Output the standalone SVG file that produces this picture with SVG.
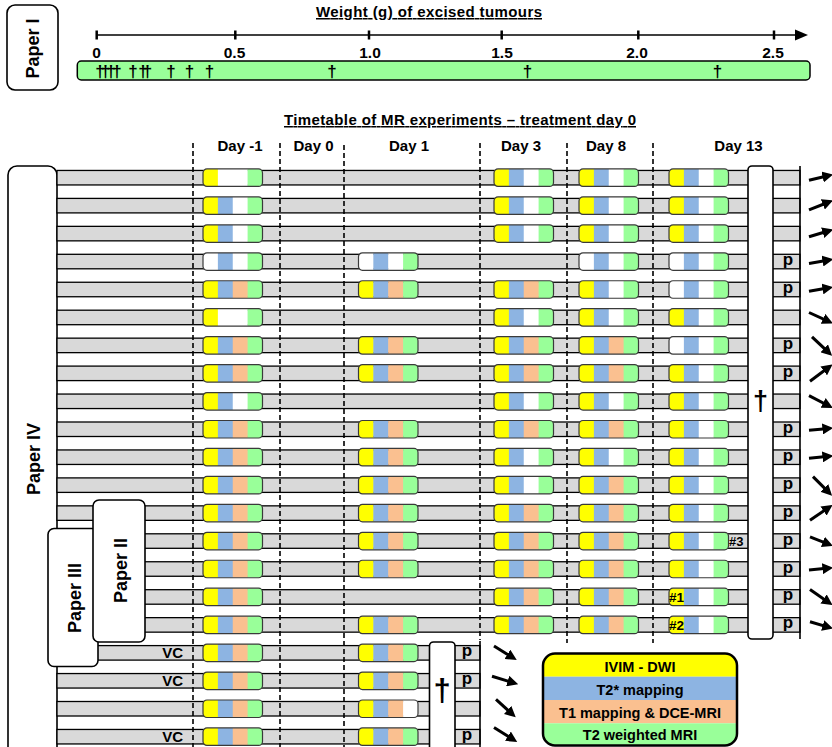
<svg xmlns="http://www.w3.org/2000/svg" xmlns:xlink="http://www.w3.org/1999/xlink" width="832" height="747" viewBox="0 0 832 747">
<style>
text{font-family:"Liberation Sans",Arial,sans-serif;font-weight:bold;fill:#000}
.band{fill:#d9d9d9;stroke:#000;stroke-width:1.3}
.po{fill:none;stroke:#3a3a3a;stroke-width:1.2}
.box{fill:#fff;stroke:#000;stroke-width:1.6}
.dash{stroke:#000;stroke-width:1.6;stroke-dasharray:5,3;fill:none}
.sol{stroke:#000;stroke-width:1.6;fill:none}
.day{font-size:15px;text-anchor:middle}
.p{font-size:17px;text-anchor:middle}
.vc{font-size:15px;text-anchor:end}
.dag{font-size:17px;text-anchor:middle}
.paper{font-size:18px;text-anchor:middle}
.lg{font-size:14.5px;text-anchor:middle}
.arr{stroke:#000;stroke-width:3;fill:none;marker-end:url(#ah)}
</style>
<defs>
<marker id="ah" markerUnits="userSpaceOnUse" viewBox="0 0 10 10" markerWidth="11" markerHeight="11" refX="6" refY="5" orient="auto"><path d="M0,0 L10,5 L0,10 z" fill="#000"/></marker>
<clipPath id="pc"><rect width="59.5" height="17.5" rx="4"/></clipPath>
<clipPath id="lc"><rect x="543" y="653.5" width="194" height="92" rx="12"/></clipPath>
<g id="YBOG"><g clip-path="url(#pc)"><rect width="15.2" height="17.5" fill="#ff0"/><rect x="14.875" width="15.2" height="17.5" fill="#8db4e2"/><rect x="29.75" width="15.2" height="17.5" fill="#fac090"/><rect x="44.625" width="15" height="17.5" fill="#99ff99"/></g><rect class="po" width="59.5" height="17.5" rx="4"/></g>
<g id="YBWG"><g clip-path="url(#pc)"><rect width="15.2" height="17.5" fill="#ff0"/><rect x="14.875" width="15.2" height="17.5" fill="#8db4e2"/><rect x="29.75" width="15.2" height="17.5" fill="#fff"/><rect x="44.625" width="15" height="17.5" fill="#99ff99"/></g><rect class="po" width="59.5" height="17.5" rx="4"/></g>
<g id="YWWG"><g clip-path="url(#pc)"><rect width="15.2" height="17.5" fill="#ff0"/><rect x="14.875" width="30" height="17.5" fill="#fff"/><rect x="44.625" width="15" height="17.5" fill="#99ff99"/></g><rect class="po" width="59.5" height="17.5" rx="4"/></g>
<g id="WBWG"><g clip-path="url(#pc)"><rect width="15.2" height="17.5" fill="#fff"/><rect x="14.875" width="15.2" height="17.5" fill="#8db4e2"/><rect x="29.75" width="15.2" height="17.5" fill="#fff"/><rect x="44.625" width="15" height="17.5" fill="#99ff99"/></g><rect class="po" width="59.5" height="17.5" rx="4"/></g>
<g id="YBOW"><g clip-path="url(#pc)"><rect width="15.2" height="17.5" fill="#ff0"/><rect x="14.875" width="15.2" height="17.5" fill="#8db4e2"/><rect x="29.75" width="15.2" height="17.5" fill="#fac090"/><rect x="44.625" width="15" height="17.5" fill="#fff"/></g><rect class="po" width="59.5" height="17.5" rx="4"/></g>
</defs>
<rect width="832" height="747" fill="#fff"/>

<!-- Paper I section -->
<g id="paper1">
<rect class="box" x="7" y="5" width="51" height="85" rx="8"/>
<text class="paper" transform="translate(38.5,48.5) rotate(-90)">Paper I</text>
</g>
<g id="weight-axis">
<text x="429" y="17" font-size="15" text-anchor="middle" text-decoration="underline" textLength="226" lengthAdjust="spacing">Weight (g) of excised  tumours</text>
<line class="sol" x1="96.7" y1="35" x2="798" y2="35" stroke-width="2.5"/>
<path d="M795,29.5 L808,35 L795,40.5 z" fill="#000"/>
<g stroke="#000" stroke-width="2.5">
<line x1="96.7" y1="30.5" x2="96.7" y2="39.5"/>
<line x1="235.3" y1="30.5" x2="235.3" y2="39.5"/>
<line x1="369" y1="30.5" x2="369" y2="39.5"/>
<line x1="501.7" y1="30.5" x2="501.7" y2="39.5"/>
<line x1="638.3" y1="30.5" x2="638.3" y2="39.5"/>
<line x1="774" y1="30.5" x2="774" y2="39.5"/>
</g>
<g font-size="15.5" text-anchor="middle">
<text x="96.5" y="58">0</text>
<text x="234.5" y="58">0.5</text>
<text x="370" y="58">1.0</text>
<text x="502" y="58">1.5</text>
<text x="637" y="58">2.0</text>
<text x="773" y="58">2.5</text>
</g>
</g>
<g id="weight-bar">
<rect x="77.3" y="61" width="732.7" height="19" rx="4" fill="#99ff99" stroke="#000" stroke-width="1.5"/>
<text class="dag" x="100" y="77">†</text>
<text class="dag" x="105.5" y="77">†</text>
<text class="dag" x="111" y="77">†</text>
<text class="dag" x="117" y="77">†</text>
<text class="dag" x="133" y="77">†</text>
<text class="dag" x="143" y="77">†</text>
<text class="dag" x="147.5" y="77">†</text>
<text class="dag" x="171" y="77">†</text>
<text class="dag" x="189.5" y="77">†</text>
<text class="dag" x="209.5" y="77">†</text>
<text class="dag" x="332" y="77">†</text>
<text class="dag" x="527.5" y="77">†</text>
<text class="dag" x="717.5" y="77">†</text>
</g>

<!-- Timetable header -->
<g id="timetable-header">
<text x="460" y="125" font-size="15" text-anchor="middle" text-decoration="underline" textLength="352" lengthAdjust="spacing">Timetable  of MR  experiments  – treatment day 0</text>
<text class="day" x="240" y="151">Day -1</text>
<text class="day" x="313.5" y="151">Day 0</text>
<text class="day" x="409" y="151">Day 1</text>
<text class="day" x="521" y="151">Day 3</text>
<text class="day" x="606" y="151">Day 8</text>
<text class="day" x="738.5" y="151">Day 13</text>
</g>

<!-- Paper IV frame -->
<g id="paper4">
<rect class="box" x="8" y="166" width="49" height="600" rx="9"/>
<text class="paper" transform="translate(39.5,459) rotate(-90)">Paper IV</text>
</g>

<!-- Rows -->
<g id="row0" transform="translate(0,177.7)">
<rect class="band" x="57" y="-7.25" width="743" height="14.5"/>
<use xlink:href="#YWWG" x="203" y="-8.75"/><use xlink:href="#YBWG" x="494" y="-8.75"/><use xlink:href="#YBWG" x="579" y="-8.75"/><use xlink:href="#YBWG" x="669" y="-8.75"/>
</g>
<g id="row1" transform="translate(0,205.65)">
<rect class="band" x="57" y="-7.25" width="743" height="14.5"/>
<use xlink:href="#YBWG" x="203" y="-8.75"/><use xlink:href="#YBWG" x="494" y="-8.75"/><use xlink:href="#YBWG" x="579" y="-8.75"/><use xlink:href="#YBWG" x="669" y="-8.75"/>
</g>
<g id="row2" transform="translate(0,233.6)">
<rect class="band" x="57" y="-7.25" width="743" height="14.5"/>
<use xlink:href="#YBWG" x="203" y="-8.75"/><use xlink:href="#YBWG" x="494" y="-8.75"/><use xlink:href="#YBWG" x="579" y="-8.75"/><use xlink:href="#YBWG" x="669" y="-8.75"/>
</g>
<g id="row3" transform="translate(0,261.55)">
<rect class="band" x="57" y="-7.25" width="743" height="14.5"/>
<use xlink:href="#WBWG" x="203" y="-8.75"/><use xlink:href="#WBWG" x="358.5" y="-8.75"/><use xlink:href="#WBWG" x="579" y="-8.75"/><use xlink:href="#WBWG" x="669" y="-8.75"/>
<text class="p" x="788" y="3.5">p</text>
</g>
<g id="row4" transform="translate(0,289.5)">
<rect class="band" x="57" y="-7.25" width="743" height="14.5"/>
<use xlink:href="#YBOG" x="203" y="-8.75"/><use xlink:href="#YBOG" x="358.5" y="-8.75"/><use xlink:href="#YBOG" x="494" y="-8.75"/><use xlink:href="#YBWG" x="579" y="-8.75"/><use xlink:href="#WBWG" x="669" y="-8.75"/>
<text class="p" x="788" y="3.5">p</text>
</g>
<g id="row5" transform="translate(0,317.45)">
<rect class="band" x="57" y="-7.25" width="743" height="14.5"/>
<use xlink:href="#YWWG" x="203" y="-8.75"/><use xlink:href="#YBWG" x="494" y="-8.75"/><use xlink:href="#YBWG" x="579" y="-8.75"/><use xlink:href="#YBWG" x="669" y="-8.75"/>
</g>
<g id="row6" transform="translate(0,345.4)">
<rect class="band" x="57" y="-7.25" width="743" height="14.5"/>
<use xlink:href="#YBOG" x="203" y="-8.75"/><use xlink:href="#YBOG" x="358.5" y="-8.75"/><use xlink:href="#YBOG" x="494" y="-8.75"/><use xlink:href="#YBOG" x="579" y="-8.75"/><use xlink:href="#WBWG" x="669" y="-8.75"/>
<text class="p" x="788" y="3.5">p</text>
</g>
<g id="row7" transform="translate(0,373.35)">
<rect class="band" x="57" y="-7.25" width="743" height="14.5"/>
<use xlink:href="#YBOG" x="203" y="-8.75"/><use xlink:href="#YBOG" x="358.5" y="-8.75"/><use xlink:href="#YBOG" x="494" y="-8.75"/><use xlink:href="#YBOG" x="579" y="-8.75"/><use xlink:href="#YBWG" x="669" y="-8.75"/>
<text class="p" x="788" y="3.5">p</text>
</g>
<g id="row8" transform="translate(0,401.3)">
<rect class="band" x="57" y="-7.25" width="743" height="14.5"/>
<use xlink:href="#YBWG" x="203" y="-8.75"/><use xlink:href="#YBWG" x="494" y="-8.75"/><use xlink:href="#YBWG" x="579" y="-8.75"/><use xlink:href="#YBWG" x="669" y="-8.75"/>
</g>
<g id="row9" transform="translate(0,429.25)">
<rect class="band" x="57" y="-7.25" width="743" height="14.5"/>
<use xlink:href="#YBOG" x="203" y="-8.75"/><use xlink:href="#YBOG" x="358.5" y="-8.75"/><use xlink:href="#YBOG" x="494" y="-8.75"/><use xlink:href="#YBOG" x="579" y="-8.75"/><use xlink:href="#YBWG" x="669" y="-8.75"/>
<text class="p" x="788" y="3.5">p</text>
</g>
<g id="row10" transform="translate(0,457.2)">
<rect class="band" x="57" y="-7.25" width="743" height="14.5"/>
<use xlink:href="#YBOG" x="203" y="-8.75"/><use xlink:href="#YBOG" x="358.5" y="-8.75"/><use xlink:href="#YBWG" x="494" y="-8.75"/><use xlink:href="#YBWG" x="579" y="-8.75"/><use xlink:href="#YBWG" x="669" y="-8.75"/>
<text class="p" x="788" y="3.5">p</text>
</g>
<g id="row11" transform="translate(0,485.15)">
<rect class="band" x="57" y="-7.25" width="743" height="14.5"/>
<use xlink:href="#YBOG" x="203" y="-8.75"/><use xlink:href="#YBOG" x="358.5" y="-8.75"/><use xlink:href="#YBWG" x="494" y="-8.75"/><use xlink:href="#YBOG" x="579" y="-8.75"/><use xlink:href="#YBWG" x="669" y="-8.75"/>
<text class="p" x="788" y="3.5">p</text>
</g>
<g id="row12" transform="translate(0,513.1)">
<rect class="band" x="57" y="-7.25" width="743" height="14.5"/>
<use xlink:href="#YBOG" x="203" y="-8.75"/><use xlink:href="#YBOG" x="358.5" y="-8.75"/><use xlink:href="#YBOG" x="494" y="-8.75"/><use xlink:href="#YBOG" x="579" y="-8.75"/><use xlink:href="#YBWG" x="669" y="-8.75"/>
<text class="p" x="788" y="3.5">p</text>
</g>
<g id="row13" transform="translate(0,541.05)">
<rect class="band" x="57" y="-7.25" width="743" height="14.5"/>
<use xlink:href="#YBOG" x="203" y="-8.75"/><use xlink:href="#YBOG" x="358.5" y="-8.75"/><use xlink:href="#YBOG" x="494" y="-8.75"/><use xlink:href="#YBOG" x="579" y="-8.75"/><use xlink:href="#YBWG" x="669" y="-8.75"/>
<text x="729" y="4.5" font-size="13">#3</text>
<text class="p" x="788" y="3.5">p</text>
</g>
<g id="row14" transform="translate(0,569)">
<rect class="band" x="57" y="-7.25" width="743" height="14.5"/>
<use xlink:href="#YBOG" x="203" y="-8.75"/><use xlink:href="#YBOG" x="358.5" y="-8.75"/><use xlink:href="#YBOG" x="494" y="-8.75"/><use xlink:href="#YBOG" x="579" y="-8.75"/><use xlink:href="#YBWG" x="669" y="-8.75"/>
<text class="p" x="788" y="3.5">p</text>
</g>
<g id="row15" transform="translate(0,596.95)">
<rect class="band" x="57" y="-7.25" width="743" height="14.5"/>
<use xlink:href="#YBOG" x="203" y="-8.75"/><use xlink:href="#YBOG" x="494" y="-8.75"/><use xlink:href="#YBOG" x="579" y="-8.75"/><use xlink:href="#YBWG" x="669" y="-8.75"/>
<text x="669" y="5" font-size="13.5">#1</text>
<text class="p" x="788" y="3.5">p</text>
</g>
<g id="row16" transform="translate(0,624.9)">
<rect class="band" x="57" y="-7.25" width="743" height="14.5"/>
<use xlink:href="#YBOG" x="203" y="-8.75"/><use xlink:href="#YBOG" x="358.5" y="-8.75"/><use xlink:href="#YBOG" x="494" y="-8.75"/><use xlink:href="#YBOG" x="579" y="-8.75"/><use xlink:href="#YBWG" x="669" y="-8.75"/>
<text x="669" y="5" font-size="13.5">#2</text>
<text class="p" x="788" y="3.5">p</text>
</g>
<g id="row17" transform="translate(0,652.85)">
<rect class="band" x="57" y="-7.25" width="423" height="14.5"/>
<text class="vc" x="183" y="5.5">VC</text>
<use xlink:href="#YBOG" x="203" y="-8.75"/><use xlink:href="#YBOG" x="358.5" y="-8.75"/>
<text class="p" x="467" y="3.5">p</text>
</g>
<g id="row18" transform="translate(0,680.8)">
<rect class="band" x="57" y="-7.25" width="423" height="14.5"/>
<text class="vc" x="183" y="5.5">VC</text>
<use xlink:href="#YBOG" x="203" y="-8.75"/><use xlink:href="#YBOG" x="358.5" y="-8.75"/>
<text class="p" x="467" y="3.5">p</text>
</g>
<g id="row19" transform="translate(0,708.75)">
<rect class="band" x="57" y="-7.25" width="423" height="14.5"/>
<use xlink:href="#YBOG" x="203" y="-8.75"/><use xlink:href="#YBOW" x="358.5" y="-8.75"/>
</g>
<g id="row20" transform="translate(0,736.7)">
<rect class="band" x="57" y="-7.25" width="423" height="14.5"/>
<text class="vc" x="183" y="5.5">VC</text>
<use xlink:href="#YBOG" x="203" y="-8.75"/><use xlink:href="#YBOG" x="358.5" y="-8.75"/>
<text class="p" x="467" y="3.5">p</text>
</g>

<!-- Day separators -->
<g id="day-separators">
<line class="dash" x1="193" y1="143" x2="193" y2="747"/>
<line class="dash" x1="280" y1="143" x2="280" y2="747"/>
<line class="dash" x1="344" y1="145" x2="344" y2="747"/>
<line class="dash" x1="480" y1="143" x2="480" y2="640"/>
<line class="sol" x1="480" y1="641" x2="480" y2="747"/>
<line class="dash" x1="567" y1="143" x2="567" y2="643"/>
<line class="dash" x1="653" y1="143" x2="653" y2="643"/>
<line class="sol" x1="800" y1="166" x2="800" y2="639"/>
</g>

<!-- Sacrifice boxes -->
<g id="sacrifice-day13">
<rect class="box" x="748" y="166" width="25" height="473" rx="4"/>
<text x="760.5" y="410" font-size="27" text-anchor="middle">†</text>
</g>
<g id="sacrifice-vc">
<rect class="box" x="429.5" y="642" width="25.5" height="130" rx="4"/>
<text x="442" y="701" font-size="31" text-anchor="middle">†</text>
</g>

<!-- Paper III and II boxes -->
<g id="paper3">
<rect class="box" x="48" y="528.5" width="50" height="138" rx="6"/>
<text class="paper" transform="translate(80.5,598) rotate(-90)">Paper III</text>
</g>
<g id="paper2">
<rect class="box" x="93" y="500" width="52" height="142" rx="6"/>
<text class="paper" transform="translate(126.5,570.5) rotate(-90)">Paper II</text>
</g>

<!-- Legend -->
<g id="legend">
<g clip-path="url(#lc)">
<rect x="543" y="653.5" width="194" height="23.2" fill="#ff0"/>
<rect x="543" y="676.7" width="194" height="23.3" fill="#8db4e2"/>
<rect x="543" y="700" width="194" height="23.3" fill="#fac090"/>
<rect x="543" y="723.3" width="194" height="23" fill="#99ff99"/>
</g>
<rect x="543" y="653.5" width="194" height="92" rx="12" fill="none" stroke="#000" stroke-width="2.5"/>
<text class="lg" x="640" y="672">IVIM - DWI</text>
<text class="lg" x="640" y="695">T2* mapping</text>
<text class="lg" x="640" y="717.5">T1 mapping &amp; DCE-MRI</text>
<text class="lg" x="640" y="739.5">T2 weighted MRI</text>
</g>

<!-- Connectors -->
<g id="connectors">
<line class="arr" x1="809" y1="180.2" x2="829" y2="175.5"/>
<line class="arr" x1="809" y1="209.8" x2="829" y2="202"/>
<line class="arr" x1="809" y1="236.8" x2="829" y2="230.8"/>
<line class="arr" x1="809" y1="263.4" x2="829" y2="259.9"/>
<line class="arr" x1="809" y1="291.3" x2="829" y2="287.8"/>
<line class="arr" x1="809" y1="312.5" x2="829" y2="321.6"/>
<line class="arr" x1="812" y1="336.8" x2="829" y2="352.9"/>
<line class="arr" x1="810" y1="381.2" x2="829" y2="367"/>
<line class="arr" x1="809" y1="395.6" x2="829" y2="406"/>
<line class="arr" x1="809" y1="430.3" x2="829" y2="428.4"/>
<line class="arr" x1="809" y1="458.2" x2="829" y2="456.3"/>
<line class="arr" x1="813" y1="476.6" x2="829" y2="492.6"/>
<line class="arr" x1="810" y1="520.3" x2="829" y2="507.3"/>
<line class="arr" x1="810" y1="536.9" x2="829" y2="544.3"/>
<line class="arr" x1="809" y1="570" x2="829" y2="568.1"/>
<line class="arr" x1="810" y1="589.6" x2="829" y2="602.7"/>
<line class="arr" x1="810" y1="621.8" x2="829" y2="627.4"/>
<line class="arr" x1="494" y1="646" x2="513" y2="657.8"/>
<line class="arr" x1="492" y1="676.3" x2="514" y2="683"/>
<line class="arr" x1="496" y1="699.4" x2="512.5" y2="714.4"/>
<line class="arr" x1="494" y1="727.4" x2="513.5" y2="739.7"/>
</g>
</svg>
